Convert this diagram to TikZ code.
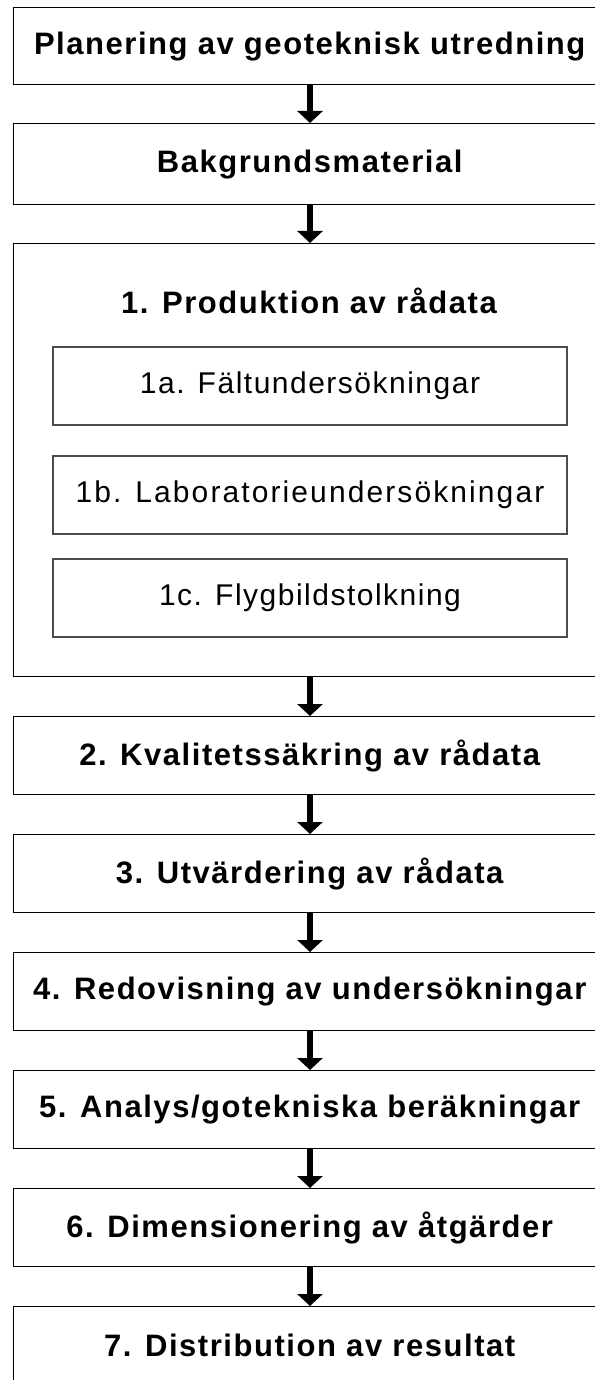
\documentclass[tikz,border=0pt]{standalone}
\usepackage{fontspec}
\setmainfont{Liberation Sans}[LetterSpace=5]
\usetikzlibrary{arrows.meta}
\tikzset{
  stage/.style={draw=black, line width=1.4pt, fill=white, minimum width=592pt,
    minimum height=77pt, anchor=north west, inner sep=0pt},
  stagetext/.style={font=\fontsize{31}{36}\selectfont\bfseries, inner sep=0pt},
  substage/.style={draw=black!70, line width=2pt, fill=white, minimum width=514pt,
    minimum height=78pt, anchor=north west, inner sep=0pt,
    font=\fontsize{30}{35}\selectfont},
  flow/.style={line width=6pt, -{Triangle[width=25pt,length=12pt]}},
}
\begin{document}
\begin{tikzpicture}[x=1pt,y=-1pt]
\useasboundingbox (0,0) rectangle (594,1380);
% main stages
\node[stage] (plan) at (13,7) {};
\node[stagetext] at (plan.center) {Planering av geoteknisk utredning};
\node[stage, minimum height=81pt] (bak) at (13,123) {};
\node[stagetext] at (bak.center) {Bakgrundsmaterial};
\node[stage, minimum height=433pt] (prod) at (13,243) {};
\node[stagetext] (prodt) at (309,301) {1. Produktion av rådata};
\node[substage] (s1a) at (52,346) {1a. Fältundersökningar};
\node[substage] (s1b) at (52,455) {\addfontfeature{LetterSpace=7}1b. Laboratorieundersökningar};
\node[substage] (s1c) at (52,558) {1c. Flygbildstolkning};
\node[stage, minimum height=78pt] (kval) at (13,716) {};
\node[stagetext] at (kval.center) {2. Kvalitetssäkring av rådata};
\node[stage, minimum height=78pt] (utv) at (13,834) {};
\node[stagetext] at (utv.center) {3. Utvärdering av rådata};
\node[stage, minimum height=78pt] (red) at (13,952) {};
\node[stagetext] at (red.center) {4. Redovisning av undersökningar};
\node[stage, minimum height=78pt] (ana) at (13,1070) {};
\node[stagetext] at (ana.center) {5. Analys/gotekniska beräkningar};
\node[stage, minimum height=78pt] (dim) at (13,1188) {};
\node[stagetext] at (dim.center) {6. Dimensionering av åtgärder};
\node[stage, minimum height=78pt] (dist) at (13,1306) {};
\node[stagetext] at (dist.center) {7. Distribution av resultat};
% connectors
\foreach \a/\b in {plan/bak, bak/prod, prod/kval, kval/utv, utv/red, red/ana, ana/dim, dim/dist}
  \draw[flow] (\a.south -| 310,0) -- (\b.north -| 310,0);
\end{tikzpicture}
\end{document}
